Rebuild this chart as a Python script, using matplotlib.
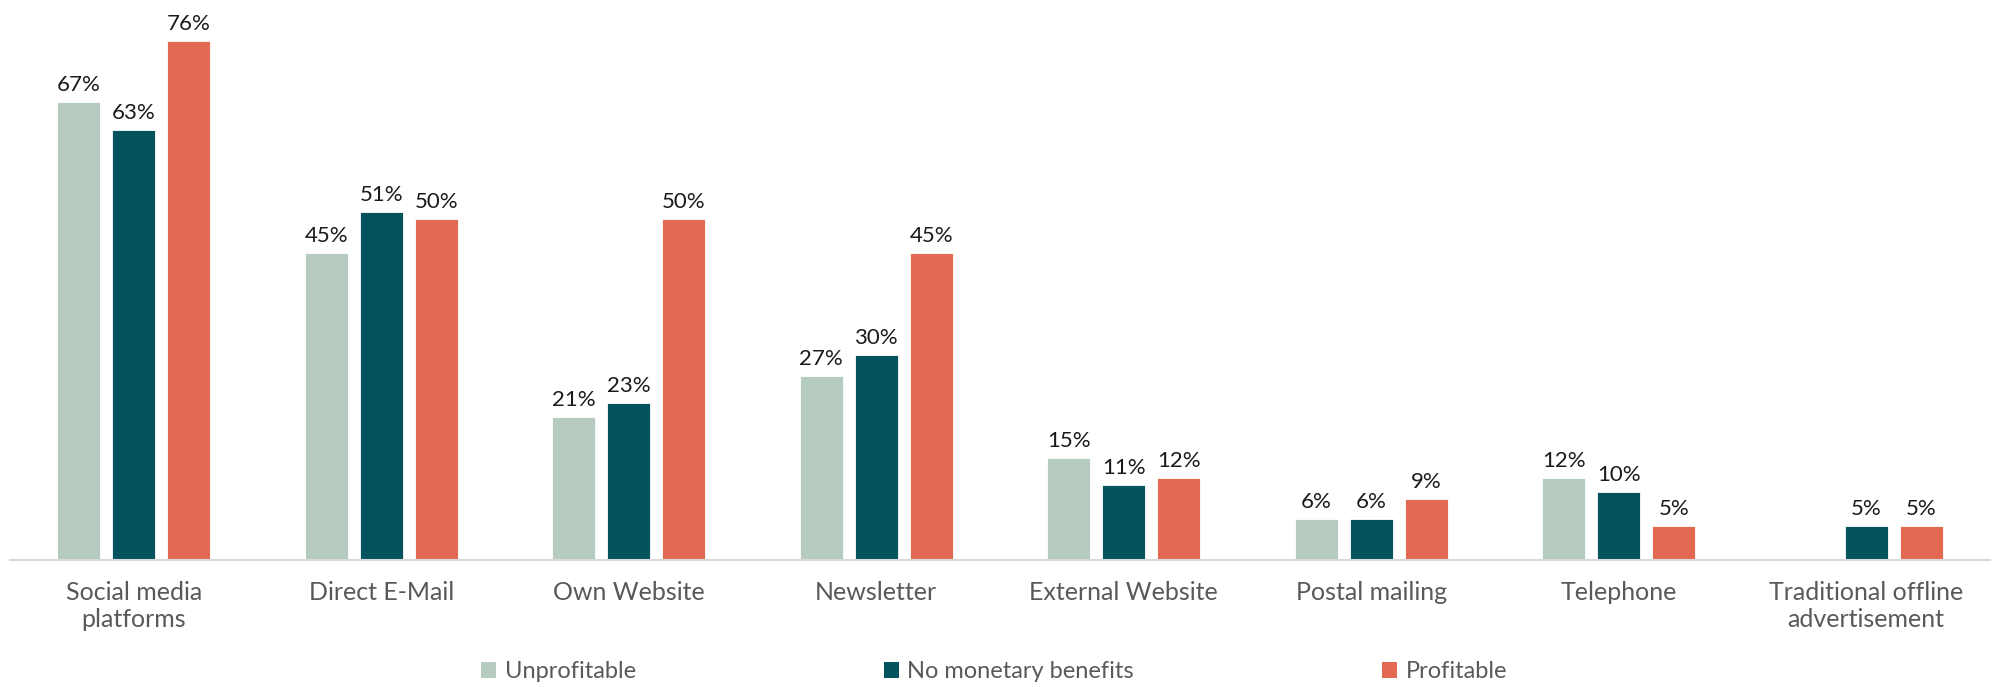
import matplotlib
matplotlib.use("Agg")
import matplotlib.pyplot as plt
import numpy as np

plt.rcParams["font.family"] = ["Lato", "DejaVu Sans"]

categories = ["Social media\nplatforms", "Direct E-Mail", "Own Website", "Newsletter",
              "External Website", "Postal mailing", "Telephone",
              "Traditional offline\nadvertisement"]
unprofitable = [67, 45, 21, 27, 15, 6, 12, None]
no_monetary = [63, 51, 23, 30, 11, 6, 10, 5]
profitable = [76, 50, 50, 45, 12, 9, 5, 5]

series = [("Unprofitable", unprofitable, "#b5cbbf"),
          ("No monetary benefits", no_monetary, "#03535f"),
          ("Profitable", profitable, "#e46952")]

fig = plt.figure(figsize=(19.94, 6.87), dpi=100)
ax = fig.add_axes([10 / 1994, 127 / 687, 1980 / 1994, 560 / 687])

x = np.arange(len(categories))
width = 0.174
step = 0.222
for i, (name, vals, color) in enumerate(series):
    xs = x + (i - 1) * step
    for xi, v in zip(xs, vals):
        if v is None:
            continue
        ax.bar(xi, v, width=width, color=color, edgecolor="white", linewidth=0.6)
        ax.annotate(f"{v}%", (xi, v), xytext=(0, 5), textcoords="offset points",
                    ha="center", va="bottom", fontsize=16, color="#1a1a1a")
    ax.bar(np.nan, 0, color=color, label=name)

ax.set_xlim(-0.5, len(categories) - 0.5)
ax.set_ylim(0, 82)
ax.set_xticks(x)
ax.set_xticklabels(categories, fontsize=18, color="#595959")
ax.tick_params(axis="x", length=0, pad=15)
ax.set_yticks([])
for s in ["top", "right", "left"]:
    ax.spines[s].set_visible(False)
ax.spines["bottom"].set_color("#d9d9d9")
ax.spines["bottom"].set_linewidth(1.5)

fig.legend(loc="center", bbox_to_anchor=(0.4985, 1 - 672 / 687), ncol=3, frameon=False,
           fontsize=17, labelcolor="#595959", handlelength=0.65, handleheight=0.65,
           handletextpad=0.35, columnspacing=10.5)

fig.savefig("out.png", dpi=100)
